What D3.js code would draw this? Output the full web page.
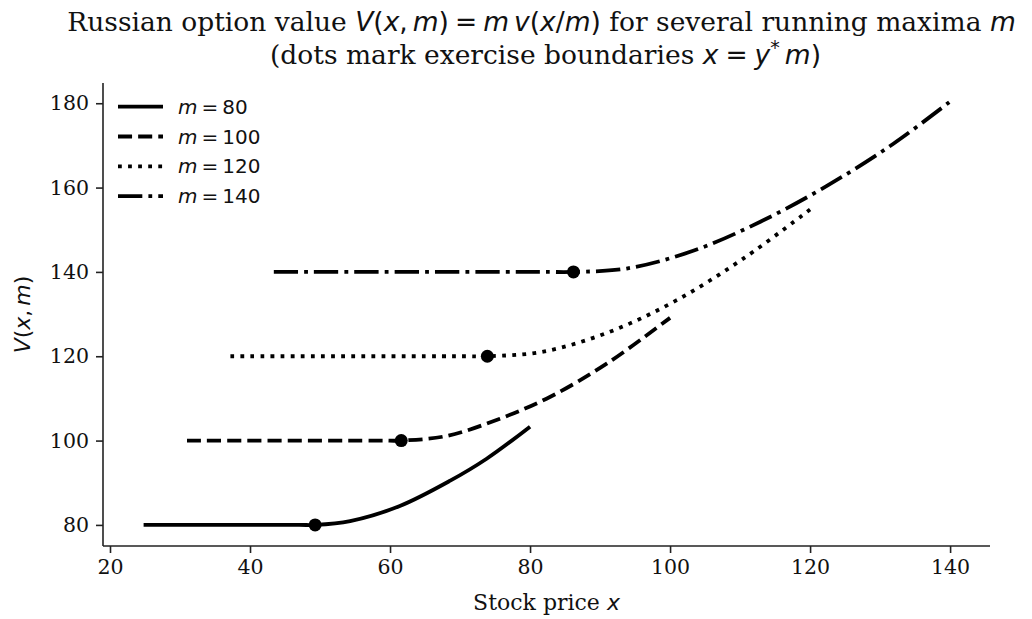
<!DOCTYPE html>
<html><head><meta charset="utf-8">
<script src="https://cdn.jsdelivr.net/npm/d3@7"></script>
<style>body{margin:0;background:#fff}svg{display:block}</style>
</head><body>
<svg id="chart" width="1032" height="619"></svg>
<script>
// ---- data ----
const seriesNames = ["m = 80", "m = 100", "m = 120", "m = 140"];
const mValues = [80, 100, 120, 140];
const x80 = [24.8, 47.0, 49.3, 54.3, 61.4, 68.6, 73.8, 80];
const v80 = [80, 80, 80, 80.9, 84.5, 90.5, 95.7, 103.3];
const x100 = [31.0, 58.6, 61.6, 68.1, 75.7, 82.9, 91.0, 100];
const v100 = [100, 100, 100, 101.1, 105.2, 110.4, 118.3, 129.1];
const x120 = [37.2, 70.3, 73.9, 81.9, 91.4, 100.95, 110.5, 120];
const v120 = [120, 120, 120, 121.1, 125.8, 133.3, 143.2, 154.8];
const x140 = [43.4, 82.0, 86.2, 93.8, 103.3, 112.9, 122.4, 131.9, 140];
const v140 = [140, 140, 140, 140.8, 145.0, 151.9, 160.4, 170.4, 180.4];
const boundaryX = [49.3, 61.6, 73.9, 86.2];
const boundaryV = [80, 100, 120, 140];
const xTicks = [20, 40, 60, 80, 100, 120, 140];
const yTicks = [80, 100, 120, 140, 160, 180];
const xDomain = [19.0, 145.7];
const yDomain = [75.0, 184.8];

const seriesX = [x80, x100, x120, x140];
const seriesV = [v80, v100, v120, v140];

(function () {
// ---- styles ----
const lw = 3.8;
const dashes = [null, [3.7*lw, 1.6*lw], [1*lw, 1.65*lw], [6.4*lw, 1.6*lw, 1*lw, 1.6*lw]];
const SERIF = "'DejaVu Serif', serif";
const SANS = "'DejaVu Sans', sans-serif";
const axisColor = "#222";

const svg = d3.select("#chart");
const mLeft = 103, mRight = 990, mTop = 83, mBottom = 546;
const x = d3.scaleLinear().domain(xDomain).range([mLeft, mRight]);
const y = d3.scaleLinear().domain(yDomain).range([mBottom, mTop]);

// axes
const xAxis = d3.axisBottom(x).tickValues(xTicks).tickSize(7).tickPadding(6).tickFormat(d3.format("d"));
const gx = svg.append("g").attr("transform", `translate(0,${mBottom})`).call(xAxis);
const yAxis = d3.axisLeft(y).tickValues(yTicks).tickSize(7).tickPadding(7).tickFormat(d3.format("d"));
const gy = svg.append("g").attr("transform", `translate(${mLeft},0)`).call(yAxis);
gx.select(".domain").attr("d", `M${mLeft},0H${mRight}`);
gy.select(".domain").attr("d", `M0,${mTop}V${mBottom}`);
[gx, gy].forEach(g => {
  g.select(".domain").attr("stroke", axisColor).attr("stroke-width", 1.6);
  g.selectAll(".tick line").attr("stroke", axisColor).attr("stroke-width", 1.6);
  g.selectAll(".tick text").attr("fill", "#111").style("font-family", SERIF).style("font-size", "20.5px");
});

// curves
const line = d3.line().x(d => x(d[0])).y(d => y(d[1])).curve(d3.curveCatmullRom.alpha(0.5));
seriesX.forEach((xs, i) => {
  const pts = xs.map((xv, j) => [xv, seriesV[i][j]]);
  const p = svg.append("path").datum(pts).attr("d", line)
    .attr("fill", "none").attr("stroke", "#000").attr("stroke-width", lw)
    .attr("stroke-linejoin", "round");
  if (dashes[i]) p.attr("stroke-dasharray", dashes[i].join(","));
});

// boundary dots
svg.append("g").selectAll("circle").data(boundaryX).join("circle")
  .attr("cx", d => x(d)).attr("cy", (d, i) => y(boundaryV[i])).attr("r", 6.5).attr("fill", "#000");

// legend
const lg = svg.append("g");
seriesNames.forEach((name, i) => {
  const ly = 106.7 + i * 29.8;
  const l = lg.append("line").attr("x1", 118).attr("x2", 163).attr("y1", ly).attr("y2", ly)
    .attr("stroke", "#000").attr("stroke-width", lw);
  if (dashes[i]) l.attr("stroke-dasharray", dashes[i].join(","));
  const parts = name.split(" = ");
  const t = lg.append("text").attr("x", 178).attr("y", ly + 7)
    .style("font-family", SANS).style("font-size", "20px").attr("fill", "#111");
  t.append("tspan").attr("font-style", "italic").text(parts[0]);
  t.append("tspan").attr("dx", 4).text("=");
  t.append("tspan").attr("dx", 4).text(parts[1]);
});

// title with math parts
function richText(sel, pieces) {
  pieces.forEach(p => {
    const ts = sel.append("tspan").text(p.t);
    ts.style("font-family", p.f === "s" || p.f === "si" ? SANS : SERIF);
    if (p.f === "si") ts.attr("font-style", "italic");
    if (p.dx) ts.attr("dx", p.dx);
    if (p.dy) ts.attr("dy", p.dy);
    if (p.fs) ts.style("font-size", p.fs);
  });
}
const cx = (mLeft + mRight) / 2;
const t1 = svg.append("text").attr("x", cx - 5).attr("y", 31).attr("text-anchor", "middle")
  .style("font-size", "26.5px").attr("fill", "#111");
richText(t1, [
  {t: "Russian option value ", f: "r"},
  {t: "V", f: "si"}, {t: "(", f: "s"}, {t: "x", f: "si"}, {t: ",", f: "s"}, {t: "m", f: "si", dx: 5},
  {t: ")", f: "s"}, {t: "=", f: "s", dx: 6}, {t: "m", f: "si", dx: 6}, {t: "v", f: "si", dx: 5},
  {t: "(", f: "s"}, {t: "x", f: "si"}, {t: "/", f: "s"}, {t: "m", f: "si"}, {t: ")", f: "s"},
  {t: " for several running maxima ", f: "r"}, {t: "m", f: "si"}
]);
const t2 = svg.append("text").attr("x", cx - 1).attr("y", 64).attr("text-anchor", "middle")
  .style("font-size", "26.5px").attr("fill", "#111");
richText(t2, [
  {t: "(dots mark exercise boundaries ", f: "r"},
  {t: "x", f: "si"}, {t: "=", f: "s", dx: 7}, {t: "y", f: "si", dx: 7},
  {t: "*", f: "s", dy: -10, fs: "19px"}, {t: "m", f: "si", dx: 5, dy: 10}, {t: ")", f: "s"}
]);

// axis labels
const xl = svg.append("text").attr("x", cx).attr("y", 610).attr("text-anchor", "middle")
  .style("font-size", "22px").attr("fill", "#111");
richText(xl, [{t: "Stock price ", f: "r"}, {t: "x", f: "si"}]);
const yl = svg.append("text").attr("transform", `translate(30,${(mTop + mBottom) / 2}) rotate(-90)`)
  .attr("text-anchor", "middle").style("font-size", "22px").attr("fill", "#111");
richText(yl, [{t: "V", f: "si"}, {t: "(", f: "s"}, {t: "x", f: "si"}, {t: ",", f: "s"},
  {t: "m", f: "si", dx: 4}, {t: ")", f: "s"}]);
})();
</script>
</body></html>
